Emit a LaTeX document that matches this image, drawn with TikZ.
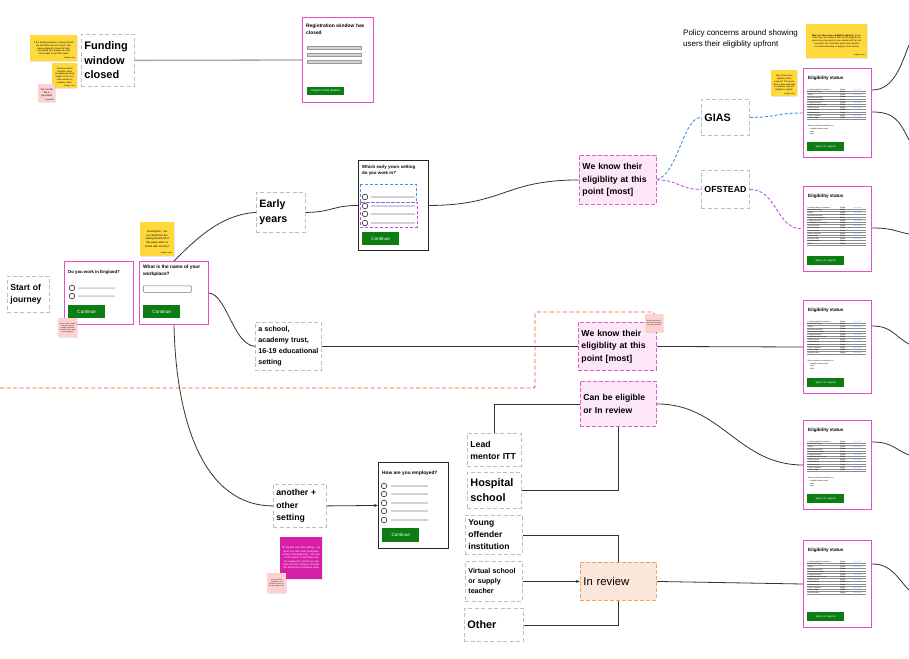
\documentclass[tikz,border=0pt]{standalone}
\usepackage{fontspec}
\setmainfont{Liberation Sans}
\usetikzlibrary{arrows.meta,calc,shadows}
\definecolor{gborder}{HTML}{BDBDC6}
\definecolor{pinkscr}{HTML}{E64FC8}
\definecolor{pinkfill}{HTML}{FDE6F7}
\definecolor{pinkdash}{HTML}{E05CC8}
\definecolor{orfill}{HTML}{FBE6DA}
\definecolor{ordash}{HTML}{F4A261}
\definecolor{govgreen}{HTML}{0B7D12}
\definecolor{stickyy}{HTML}{FFD93B}
\definecolor{stpink}{HTML}{FFD0D0}
\definecolor{stmag}{HTML}{D81FA8}
\definecolor{bluedash}{HTML}{4A8FE7}
\definecolor{purpdash}{HTML}{BE4CF2}
\definecolor{orline}{HTML}{D9682E}
\definecolor{barfill}{HTML}{CFD3D9}
\definecolor{linkblue}{HTML}{5F9EEF}
\definecolor{lineg}{HTML}{333333}
\newcommand\myfs[2]{\fontsize{#1}{#2}\selectfont}
\newcommand\eligscr[6]{%
 \node[scr, minimum width=68, minimum height=#4] (#1) at (#2,#3) {};
 \begin{scope}[shift={(#2,#3)}]
 \node[anchor=west, font=\bfseries\myfs{4.6}{5}] (#1ttl) at (5,10.5) {Eligibility status};
 \foreach \lab [count=\i] in {Leading academic institutions,Early years setting,Ofsted,Education and skills,Early years foundation,Funding allocation,Leading education school,Special schools,Local authority,Academy trusts,Further education,Other settings,Hospital school,Pupil referral unit,Other}{%
   \ifnum\i>#5\relax\else
   \pgfmathsetmacro\yy{19+\i*2.6}
   \node[rowt] (#1a\i) at (4.5,\yy) {\lab};
   \node[rowt] (#1b\i) at (37,\yy) {Eligible};
   \node[rowt, text=linkblue] (#1c\i) at (50,\yy) {Learn more};
   \draw[black!45, line width=0.35pt] (4,\yy+1.3) -- (63,\yy+1.3);
   \fi}
 \ifnum#6=1
   \pgfmathsetmacro\py{19+#5*2.6+8}
   \node[rowt] (#1p) at (4.5,\py) {Who we need from information on:};
   \node[rowt, anchor=north west, align=left, font=\myfs{1.7}{2.6}] (#1q) at (6,\py+2) {• Leading academy trusts\\• GIAS\\• URN};
 \fi
 \node[btn, minimum width=37, minimum height=9, font=\myfs{2.6}{3}] (#1btn) at (4,#4-15) {Sign in to register};
 \end{scope}}
\begin{document}
\begin{tikzpicture}[x=1pt,y=-1pt,
 every node/.style={inner sep=0pt},
 gbox/.style={draw=gborder, fill=white, dash pattern=on 4pt off 2.5pt, line width=0.8pt, anchor=north west, align=left, inner xsep=3pt},
 pbox/.style={draw=pinkdash, fill=pinkfill, dash pattern=on 4pt off 2pt, line width=0.9pt, anchor=north west, align=left, inner xsep=3pt},
 rbox/.style={draw=ordash, fill=orfill, dash pattern=on 4pt off 2pt, line width=0.9pt, anchor=north west, align=left, inner xsep=3pt},
 scr/.style={draw=pinkscr, line width=1pt, fill=white, anchor=north west},
 bscr/.style={draw=black!85, line width=0.9pt, fill=white, anchor=north west},
 btn/.style={fill=govgreen, text=white, anchor=north west, font=\myfs{4.6}{5}, minimum width=37, minimum height=13},
 rowt/.style={anchor=west, font=\myfs{1.7}{2}},
 radio/.style={circle, draw=black!85, line width=0.6pt, minimum size=5.6pt, fill=white},
 stk/.style={anchor=north west, align=center, drop shadow={opacity=0.18, shadow xshift=0.5pt, shadow yshift=-0.7pt}},
 sig/.style={anchor=south east, font=\myfs{1.7}{2}},
 conn/.style={draw=lineg, line width=0.8pt},
 arr/.style={-{Stealth[length=4pt,width=3pt]}}
]
\useasboundingbox (0,0) rectangle (909,658);
\fill[white] (0,0) rectangle (909,658);

% orange dashed region
\draw[orline, dash pattern=on 4pt off 2.5pt, line width=0.9pt, rounded corners=2pt] (0,388) -- (535,388) -- (535,312) -- (654,312) -- (654,320);

% ---------- top left ----------
\node[gbox, minimum width=53, minimum height=52, text width=47, font=\bfseries\myfs{11}{14.5}] (fund) at (81,34) {Funding\\window\\closed};
\node[stk, fill=stickyy, minimum width=47, minimum height=26, text width=43, font=\myfs{2.3}{2.9}] (s1) at (30,35) {If the funding window is closed should we still allow users to check? Because england's moved to funding criteria can change we may not be able to tell them when\\[2pt]};
\node[sig] (s1sig) at ($(s1.south east)+(-2,-2)$) {Siddique Islam};
\node[stk, fill=stickyy, minimum width=25, minimum height=25, text width=22, font=\myfs{2.2}{2.8}] (s2) at (52,63) {Could we add a reminder about re-registering being eligible in the next claim window or guidance later?\\[2pt]};
\node[sig] (s2sig) at ($(s2.south east)+(-2,-1.5)$) {Siddique Islam};
\node[stk, fill=stpink, minimum width=17, minimum height=18, text width=15, font=\myfs{2.4}{3}] (s3) at (38,84) {Yes sounds like a good idea!\\[3pt]};
\node[sig] (s3sig) at ($(s3.south east)+(-1.5,-1.5)$) {Jane Ward};

% registration screen
\node[scr, minimum width=71, minimum height=85] (reg) at (302,17) {};
\node[anchor=north west, text width=60, align=left, font=\bfseries\myfs{4.9}{6.5}] (regt) at (306,24) {Registration window has closed};
\foreach \yb [count=\k] in {46,53,60}{\node[anchor=north west, fill=barfill, draw=black!40, line width=0.3pt, minimum width=54, minimum height=3] (regbar\k) at (307,\yb) {};}
\node[btn, minimum width=37, minimum height=8, font=\myfs{2.8}{3}] (regbtn) at (307,87) {Register email updates};
\draw[gray!70, line width=1.3pt] (fund.east) -- (reg.west);

% policy text & top right stickies
\node[anchor=north west, align=left, font=\myfs{8}{11}] (policy) at (683,30) {Policy concerns around showing\\users their eligiblity upfront};
\node[stk, fill=stickyy, minimum width=61, minimum height=34, text width=57, font=\myfs{2.2}{2.8}] (s4) at (806,24) {\textbf{Why not show users eligibility upfront?} Sometimes they are unable to take up full eligibility because they may apply in one window and the rest in another, this could help them know whether it's worth continuing to apply for their setting\\[3pt]};
\node[sig] (s4sig) at ($(s4.south east)+(-2,-2)$) {Siddique Islam};
\node[stk, fill=stickyy, minimum width=26, minimum height=26, text width=23, font=\myfs{2.2}{2.8}] (s5) at (771,70) {Why do we have eligibility status screens? This gives them a clear message on whether they are eligible to register\\[3pt]};
\node[sig] (s5sig) at ($(s5.south east)+(-2,-1.5)$) {Siddique Islam};

% GIAS / OFSTEAD
\node[gbox, minimum width=48, minimum height=36, text width=42, font=\bfseries\myfs{10.8}{13}] (gias) at (701,99) {GIAS};
\node[gbox, minimum width=48, minimum height=38, text width=42, font=\bfseries\myfs{8.8}{11}] (ofsted) at (701,170) {OFSTEAD};

% eligibility screens
\eligscr{elig1}{803}{68}{89}{12}{1}
\eligscr{elig2}{803}{186}{85}{15}{0}
\eligscr{elig3}{803}{300}{93}{13}{1}
\eligscr{elig4}{803}{420}{89}{12}{1}
\eligscr{elig5}{803}{540}{87}{13}{0}

% ---------- left ----------
\node[gbox, minimum width=42, minimum height=36, text width=36, font=\bfseries\myfs{8.6}{12}] (start) at (7,276) {Start of\\journey};

\node[scr, minimum width=69, minimum height=63] (eng) at (64,261) {};
\node[anchor=west, font=\bfseries\myfs{4.3}{5}] (engt) at (68,272) {Do you work in England?};
\node[radio] (engr1) at (72,288) {};
\node[radio] (engr2) at (72,296) {};
\fill[barfill] (78,287.3) rectangle (115,288.8) (78,295.3) rectangle (115,296.8);
\node[btn] (engb) at (68,305) {Continue};
\node[stk, fill=stpink, minimum width=19, minimum height=19, text width=17, font=\myfs{1.6}{2.1}] (s7) at (58,318) {can we make it clearer what we mean by working in England, and what if they work across borders?\\[2pt]};

\node[scr, minimum width=69, minimum height=63] (wp) at (139,261) {};
\node[anchor=north west, align=left, font=\bfseries\myfs{4.8}{6.8}] (wpt) at (143,265) {What is the name of your\\workplace?};
\node[anchor=north west, draw=black!55, line width=0.5pt, rounded corners=1pt, fill=white, minimum width=48, minimum height=6.5] (wpin) at (143,285.5) {};
\node[btn] (wpb) at (143,305) {Continue};
\node[stk, fill=stickyy, minimum width=34, minimum height=34, text width=30, font=\myfs{2.7}{3.6}] (s6) at (140,222) {Assumption: can we determine the setting based off of this page alone to check with Jeremy?\\[3pt]};
\node[sig] (s6sig) at ($(s6.south east)+(-2,-2)$) {Siddique Islam};

% early years
\node[gbox, minimum width=49, minimum height=40, text width=43, font=\bfseries\myfs{10.7}{15}] (early) at (256,192) {Early\\years};
\node[bscr, minimum width=70, minimum height=90] (ey) at (358,160) {};
\node[anchor=north west, align=left, font=\bfseries\myfs{4.4}{6.3}] (eyt) at (362,165) {Which early years setting\\do you work in?};
\foreach \ry [count=\k] in {197,206,214,223}{
  \node[radio] (eyr\k) at (365,\ry) {};
  \fill[barfill] (371,\ry-0.8) rectangle (415,\ry+0.8);}
\draw[bluedash, dash pattern=on 3pt off 2pt, line width=0.9pt] (360,184) rectangle (416,202);
\draw[purpdash, dash pattern=on 3pt off 2pt, line width=0.9pt] (360,202) rectangle (417,227);
\node[btn] (eyb) at (362,232) {Continue};

% school
\node[gbox, minimum width=65, minimum height=48, text width=60, font=\bfseries\myfs{7.1}{11}] (school) at (255,322) {a school,\\academy trust,\\16-19 educational\\setting};

% pink boxes
\node[pbox, minimum width=77, minimum height=49, text width=71, font=\bfseries\myfs{8.7}{12.5}] (pink1) at (579,155) {We know their\\eligiblity at this\\point [most]};
\node[pbox, minimum width=78, minimum height=48, text width=72, font=\bfseries\myfs{8.7}{12.5}] (pink2) at (578,322) {We know their\\eligiblity at this\\point [most]};
\node[stk, fill=stpink, minimum width=18, minimum height=18, text width=16, font=\myfs{1.6}{2.1}] (s8) at (645,314) {do we know this for all of these settings or only some of them?\\[2pt]};
\node[pbox, minimum width=76, minimum height=45, text width=70, font=\bfseries\myfs{8.6}{12.5}] (pink3) at (580,381) {Can be eligible\\or In review};

% another + other setting
\node[gbox, minimum width=53, minimum height=43, text width=47, font=\bfseries\myfs{8.7}{12.5}] (another) at (273,484) {another +\\other\\setting};
\node[bscr, minimum width=70, minimum height=86] (how) at (378,462) {};
\node[anchor=west, font=\bfseries\myfs{4.8}{5}] (howt) at (382,473) {How are you employed?};
\foreach \ry [count=\k] in {486,494,503,511,520}{
  \node[radio] (howr\k) at (384,\ry) {};
  \fill[barfill] (391,\ry-0.8) rectangle (428,\ry+0.8);}
\node[btn, minimum height=14] (howb) at (382,528) {Continue};
\node[stk, fill=stmag, text=white, minimum width=42, minimum height=42, text width=39, font=\myfs{2.5}{3.3}] (s9) at (280,537) {for another and other setting -- we don't see them their workplace name in the beginning -- not sure of the reason is that these are not captured for GIAS? we ask them for their setting \& proceed this branching \& Siddique Islam};
\node[stk, fill=stpink, minimum width=19, minimum height=20, text width=17, font=\myfs{1.6}{2.1}] (s10) at (267,573) {we ask and the workplace is not needed for these so we don't need to ask\\[2pt]};

% bottom middle boxes
\node[gbox, minimum width=54, minimum height=33, text width=48, font=\bfseries\myfs{8.7}{12}] (lead) at (467,433) {Lead\\mentor ITT};
\node[gbox, minimum width=54, minimum height=36, text width=48, font=\bfseries\myfs{10.9}{15}] (hosp) at (467,472) {Hospital\\school};
\node[gbox, minimum width=57, minimum height=39, text width=51, font=\bfseries\myfs{8.5}{12}] (young) at (465,515) {Young\\offender\\institution};
\node[gbox, minimum width=57, minimum height=40, text width=51, font=\bfseries\myfs{7.1}{10}] (virt) at (465,561) {Virtual school\\or supply\\teacher};
\node[gbox, minimum width=59, minimum height=33, text width=53, font=\bfseries\myfs{10.9}{13}] (other) at (464,608) {Other};
\node[rbox, minimum width=76, minimum height=38, text width=70, font=\myfs{11.3}{13}] (review) at (580,562) {In review};

% ---------- connectors ----------
\draw[conn] (wp.north) .. controls +(22,-22) and +(-35,2) .. (early.west);
\draw[conn] (wp.east) .. controls +(18,2) and +(-22,-2) .. (school.west);
\draw[conn] (wp.south) .. controls +(2,95) and +(-70,0) .. (another.west);
\draw[conn, arr] (another.east) -- (how.west);
\draw[conn] (early.east) .. controls +(25,0) and +(-25,0) .. (ey.west);
\draw[conn] (ey.east) .. controls +(75,0) and +(-75,0) .. (pink1.west);
\draw[bluedash, line width=0.9pt, dash pattern=on 3pt off 2pt] (pink1.east) .. controls +(22,-8) and +(-18,0) .. (gias.west);
\draw[bluedash, line width=0.9pt, dash pattern=on 3pt off 2pt] (gias.east) .. controls +(28,0) and +(-28,0) .. (elig1.west);
\draw[purpdash, line width=0.9pt, dash pattern=on 3pt off 2pt] (pink1.east) .. controls +(22,0) and +(-22,0) .. (ofsted.west);
\draw[purpdash, line width=0.9pt, dash pattern=on 3pt off 2pt] (ofsted.east) .. controls +(28,0) and +(-28,0) .. (elig2.west);
\draw[conn] (school.east) -- (pink2.west);
\draw[conn] (pink2.east) -- (elig3.west);
\draw[conn] (pink3.east) .. controls +(65,0) and +(-65,0) .. (elig4.west);
\draw[conn] (pink3.west) -| (lead.north);
\draw[conn] (hosp.east) -| (pink3.south);
\draw[conn] (young.east) -| (review.north);
\draw[conn, arr] (virt.east) -- (review.west);
\draw[conn] (other.east) -| (review.south);
\draw[conn] (review.east) -- (elig5.west);

% exits to the right
\coordinate (x1) at (909,45);
\coordinate (x2) at (909,140);
\coordinate (x3) at (909,234);
\coordinate (x4) at (909,344);
\coordinate (x5) at (909,455);
\coordinate (x6) at (909,590);
\draw[conn] ($(elig1.north east)+(0,22)$) .. controls +(22,0) and +(-8,20) .. (x1);
\draw[conn] ($(elig1.north east)+(0,44)$) .. controls +(22,0) and +(-10,-20) .. (x2);
\draw[conn] ($(elig2.north east)+(0,42)$) .. controls +(20,0) and +(-15,-3) .. (x3);
\draw[conn] ($(elig3.north east)+(0,26)$) .. controls +(20,0) and +(-15,-8) .. (x4);
\draw[conn] ($(elig4.north east)+(0,22)$) .. controls +(20,0) and +(-15,-6) .. (x5);
\draw[conn] ($(elig5.north east)+(0,24)$) .. controls +(20,0) and +(-12,-12) .. (x6);
\end{tikzpicture}
\end{document}
